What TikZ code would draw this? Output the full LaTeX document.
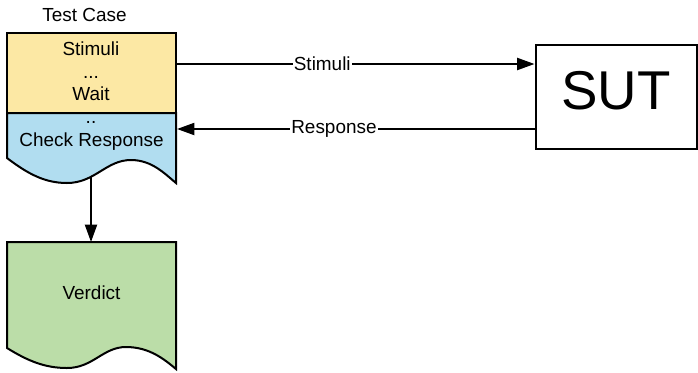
\documentclass[tikz,border=0pt]{standalone}
\usepackage{fontspec}
\setmainfont{Liberation Sans}
\usetikzlibrary{arrows.meta}

\definecolor{stimfill}{HTML}{FCE8A4}
\definecolor{chkfill}{HTML}{B1DDF0}
\definecolor{verdfill}{HTML}{BBDDA8}

\begin{document}
\begin{tikzpicture}[x=0.75pt,y=0.75pt,yscale=-1,
    txt/.style={font=\fontsize{14.2}{17}\selectfont, inner sep=0pt, anchor=base},
    edgelbl/.style={font=\fontsize{14.2}{17}\selectfont, fill=white, inner sep=0.75pt},
    flow/.style={line width=1.5pt, -{Triangle[length=13pt,width=9pt]}}]
    \useasboundingbox (0,0) rectangle (698,372);

    %Shape: Document [check response]
    \draw [line width=1.5pt, fill=chkfill] (7,113) -- (176,113) -- (176,183) .. controls (165,174) and (152,160) .. (131,160) .. controls (106,160) and (95,183) .. (67,183) .. controls (45,183) and (28,174) .. (7,158) -- cycle;
    %Shape: Rectangle [stimuli]
    \draw [line width=1.5pt, fill=stimfill] (7,33) rectangle (176,113);
    %Shape: Document [verdict]
    \draw [line width=1.5pt, fill=verdfill] (7,242) -- (176,242) -- (176,369) .. controls (165,360) and (150,347) .. (126,347) .. controls (103,347) and (93,368) .. (67,368) .. controls (45,368) and (28,361) .. (7,348) -- cycle;
    %Shape: Rectangle [SUT]
    \node (sut) [draw, line width=1.5pt, inner sep=0pt, minimum width=120.75pt, minimum height=78pt,
        font=\fontsize{41}{41}\selectfont, text depth=9.75pt] at (616,97) {SUT};

    % Text Node
    \node (tclabel) [txt] at (84.5,21) {Test Case};
    % Text Node
    \node (stimtxt) [txt] at (91,55) {Stimuli};
    % Text Node
    \node (dotsa) [txt] at (91,78) {...};
    % Text Node
    \node (waittxt) [txt] at (91,100) {Wait};
    % Text Node
    \node (dotsb) [txt] at (91,123.5) {..};
    % Text Node
    \node (chktxt) [txt] at (91.5,146.7) {Check Response};
    % Text Node
    \node (verdtxt) [txt] at (91.5,299) {Verdict};

    %Straight Lines [stimuli out]
    \coordinate (stimout) at (176,64);
    \draw [flow] (stimout) -- (stimout -| sut.west) node [edgelbl, pos=0.408] (stimlbl) {Stimuli};
    %Straight Lines [response in]
    \coordinate (respin) at (177,129);
    \draw [flow] (respin -| sut.west) -- (respin) node [edgelbl, pos=0.561] (resplbl) {Response};
    %Straight Lines [verdict]
    \coordinate (chkout) at (91,177);
    \coordinate (verdin) at (91,242);
    \draw [flow] (chkout) -- (verdin);

\end{tikzpicture}
\end{document}
